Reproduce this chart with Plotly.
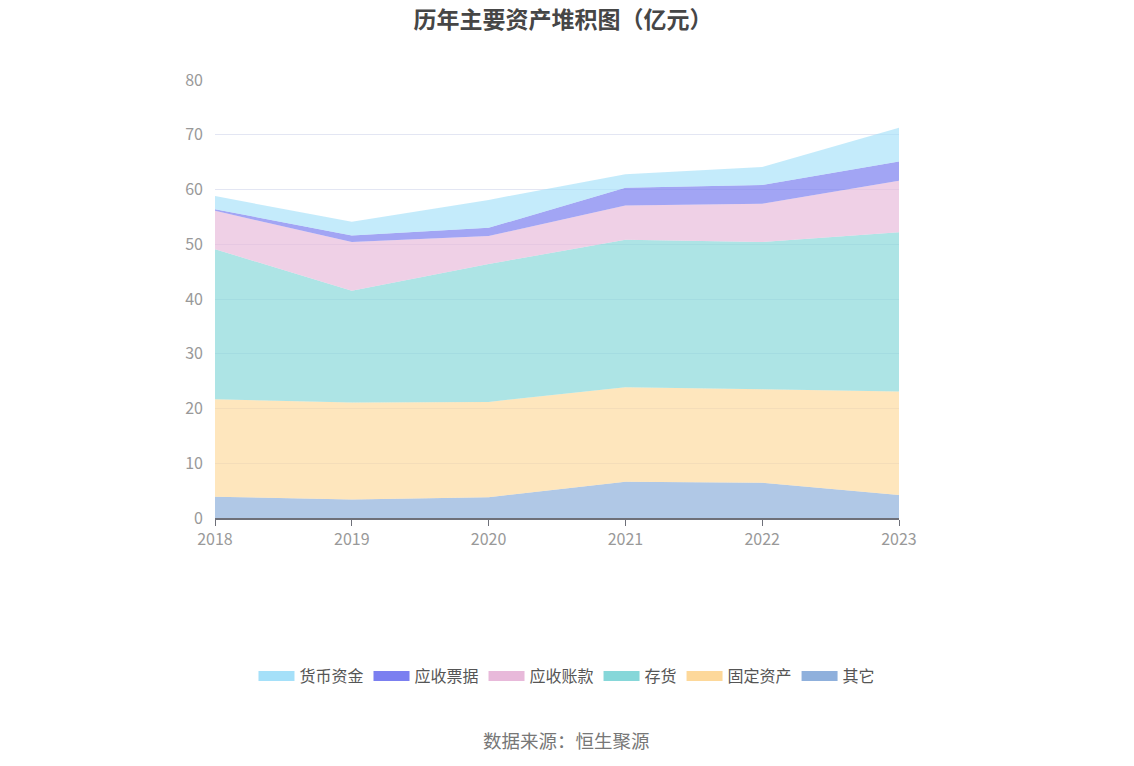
import plotly.graph_objects as go

years = ["2018", "2019", "2020", "2021", "2022", "2023"]
# values in 亿元, bottom of the stack first
other = [3.9, 3.4, 3.8, 6.6, 6.45, 4.2]
fixed_assets = [17.8, 17.7, 17.4, 17.3, 17.05, 18.9]
inventory = [27.4, 20.4, 25.2, 26.9, 26.9, 29.1]
receivables = [7.0, 8.9, 5.1, 6.3, 7.0, 9.4]
notes_receivable = [0.3, 1.2, 1.5, 3.2, 3.4, 3.5]
cash = [2.4, 2.5, 5.1, 2.5, 3.3, 6.2]

series = [
    ("其它", other, "rgba(143,176,220,0.7)", "#8fb0dc"),
    ("固定资产", fixed_assets, "rgba(253,216,154,0.65)", "#fdd89a"),
    ("存货", inventory, "rgba(134,215,217,0.68)", "#86d7d9"),
    ("应收账款", receivables, "rgba(232,185,218,0.68)", "#e8b9da"),
    ("应收票据", notes_receivable, "rgba(123,127,240,0.7)", "#7b7ff0"),
    ("货币资金", cash, "rgba(165,224,249,0.65)", "#a5e0f9"),
]

fig = go.Figure()
for name, vals, color, solid in series:
    fig.add_trace(go.Scatter(
        x=years, y=vals, name=name, mode="lines",
        stackgroup="one", line=dict(width=0, color=color),
        fillcolor=color, hoverinfo="x+y+name", showlegend=False,
        legendgroup=name,
    ))
for name, vals, color, solid in series:
    fig.add_trace(go.Scatter(
        x=[None], y=[None], name=name, mode="lines",
        line=dict(width=18, color=solid), legendgroup=name,
        showlegend=True, hoverinfo="skip",
    ))

fig.update_layout(
    width=1134, height=766,
    paper_bgcolor="white", plot_bgcolor="white",
    margin=dict(l=215, r=235, t=80, b=248),
    font=dict(family="Noto Sans CJK SC, Noto Sans, sans-serif", color="#666"),
    title=dict(text="<b>历年主要资产堆积图（亿元）</b>", x=0.4965, xanchor="center",
               y=0.9745, yanchor="middle",
               font=dict(size=23, color="#464646")),
    showlegend=True,
    legend=dict(orientation="h", x=0.5146, xanchor="center", y=-0.361, yanchor="middle",
                traceorder="reversed", font=dict(size=16, color="#555"),
                itemwidth=36),
    annotations=[dict(text="数据来源：恒生聚源", xref="paper", yref="paper",
                      x=0.5146, y=-0.506, xanchor="center", yanchor="middle",
                      showarrow=False, font=dict(size=18.5, color="#777"))],
)
fig.update_xaxes(
    type="category", range=[0, 5], showgrid=False,
    showline=True, linecolor="#6e7079", linewidth=1.5,
    ticks="outside", ticklen=6, tickcolor="#6e7079",
    tickfont=dict(size=16, color="#999"),
)
fig.update_yaxes(
    range=[0, 80], dtick=10, showgrid=True, gridcolor="#e3e6f3",
    zeroline=False, showline=False,
    tickfont=dict(size=16, color="#999"), ticklabelstandoff=11,
)

fig.write_html("out.html", config={"displayModeBar": False},
               post_script="document.body.style.margin='0';")
